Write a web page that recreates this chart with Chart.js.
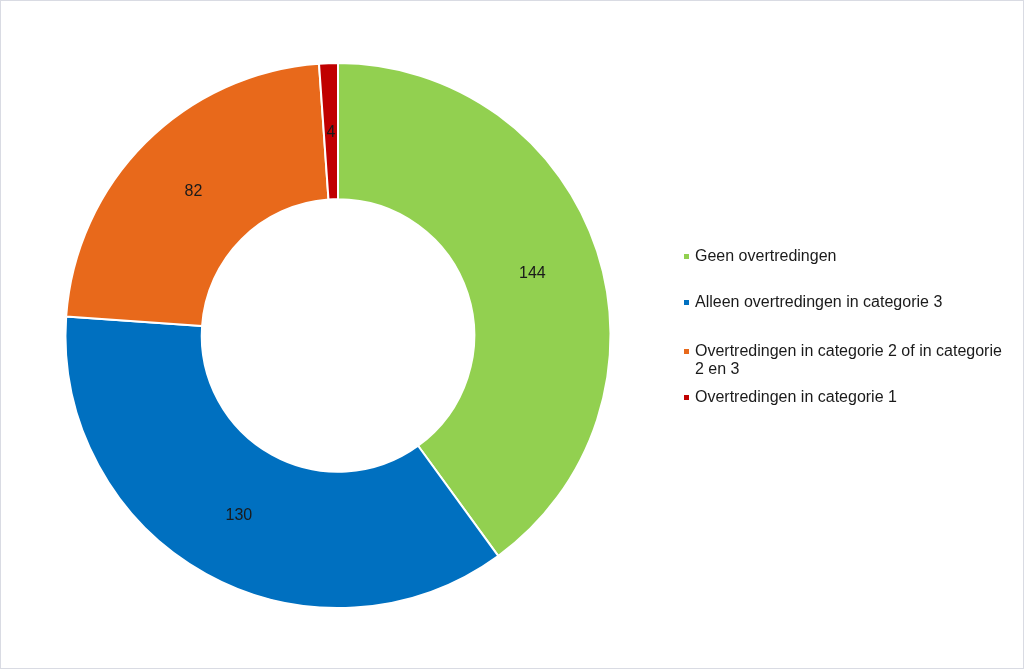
<!DOCTYPE html>
<html><head><meta charset="utf-8">
<script src="https://cdn.jsdelivr.net/npm/chart.js@4/dist/chart.umd.min.js"></script>
<style>
html,body{margin:0;padding:0;background:#fff;}
#wrap{position:relative;width:1024px;height:669px;box-sizing:border-box;border:1px solid #d9dbe3;}
#c{position:absolute;left:0;top:0;}
.leg{position:absolute;left:683px;width:340px;font-family:"Liberation Sans",Arial,sans-serif;font-size:16px;line-height:18px;color:#1a1a1a;}
.leg .m{position:absolute;left:0;top:7px;width:5px;height:5px;}
.leg .t{margin-left:11px;width:316px;}
</style></head>
<body>
<div id="wrap"><canvas id="c" width="1024" height="669"></canvas></div>
<script>
const categories = ["Geen overtredingen","Alleen overtredingen in categorie 3","Overtredingen in categorie 2 of in categorie 2 en 3","Overtredingen in categorie 1"];
const values = [144,130,82,4];
const colors = ["#92D050","#0070C0","#E8691B","#C00000"];
const legendTops = [246,292,341,387];

const labelPlugin = {
  id:'vals',
  afterDatasetsDraw(chart){
    const ctx = chart.ctx;
    const meta = chart.getDatasetMeta(0);
    ctx.save();
    ctx.font = '16px "Liberation Sans", Arial, sans-serif';
    ctx.fillStyle = '#1a1a1a';
    ctx.textAlign = 'center';
    ctx.textBaseline = 'middle';
    meta.data.forEach((arc,i)=>{
      const p = arc.tooltipPosition();
      ctx.fillText(String(chart.data.datasets[0].data[i]), p.x, p.y+1);
    });
    ctx.restore();
  }
};

new Chart(document.getElementById('c'),{
  type:'doughnut',
  data:{labels:categories,datasets:[{data:values,backgroundColor:colors,borderColor:'#ffffff',borderWidth:2,hoverOffset:0}]},
  options:{
    responsive:false,animation:false,cutout:'50%',rotation:0,
    layout:{padding:{left:63,right:413,top:61,bottom:61}},
    plugins:{legend:{display:false},tooltip:{enabled:false}}
  },
  plugins:[labelPlugin]
});

const wrap = document.getElementById('wrap');
categories.forEach((c,i)=>{
  const d = document.createElement('div');
  d.className='leg';
  d.style.top = legendTops[i]+'px';
  const m = document.createElement('div'); m.className='m'; m.style.background=colors[i];
  const t = document.createElement('div'); t.className='t'; t.textContent=c;
  d.appendChild(m); d.appendChild(t); wrap.appendChild(d);
});
</script>
</body></html>
